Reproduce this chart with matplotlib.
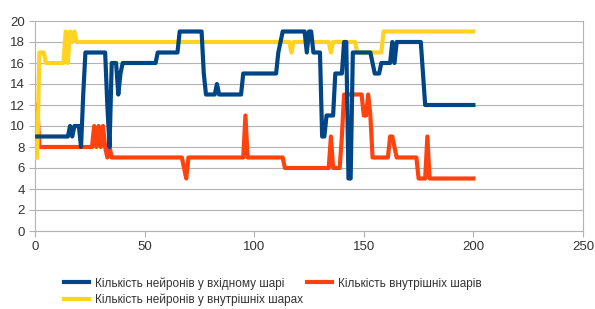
import numpy as np
import matplotlib
matplotlib.use("Agg")
from matplotlib import pyplot as plt

plt.rcParams['font.family'] = ['Liberation Sans', 'DejaVu Sans']

# step series, stored as (value, run length) pairs over x = 1..200
input_vals = [9, 10, 9, 10, 8, 13, 17, 12, 8, 16, 13, 15, 16, 17, 19, 15, 13, 14, 13,
              15, 17, 18, 19, 17, 19, 17, 9, 11, 15, 18, 5, 17, 16, 15, 16, 18, 16,
              18, 15, 12]
input_runs = [15, 1, 1, 3, 1, 1, 10, 1, 1, 3, 1, 1, 16, 10, 11, 1, 5, 1, 11,
              16, 1, 1, 11, 1, 2, 4, 2, 4, 4, 2, 2, 9, 1, 3, 5, 1, 1,
              12, 1, 23]

hidden_n_vals = [7, 17, 16, 19, 16, 19, 18, 19, 18, 17, 18, 17, 18, 17, 19]
hidden_n_runs = [1, 3, 9, 1, 1, 1, 1, 1, 98, 1, 17, 1, 11, 12, 42]

layers_vals = [12, 8, 10, 8, 10, 8, 10, 8, 7, 8, 7, 6, 5, 7, 11, 7, 6, 9, 6, 9,
               13, 11, 13, 11, 7, 9, 8, 7, 5, 9, 5]
layers_runs = [1, 25, 1, 1, 1, 1, 1, 1, 1, 1, 33, 1, 1, 26, 1, 17, 21, 1, 4, 1,
               9, 2, 1, 1, 8, 2, 1, 10, 4, 1, 21]

labels = ['Кількість нейронів у вхідному шарі',
          'Кількість нейронів у внутрішніх шарах',
          'Кількість внутрішніх шарів']
colors = ['#004586', '#ffd320', '#ff420e']

x = np.arange(1, 201)
input_n = np.repeat(input_vals, input_runs)
hidden_n = np.repeat(hidden_n_vals, hidden_n_runs)
layers = np.repeat(layers_vals, layers_runs)

fig = plt.figure(figsize=(5.95, 3.09), dpi=100)
ax = fig.add_axes([35 / 595, 1 - 231 / 309, 548 / 595, 210 / 309])

lines = []
for y, c, lab, z in zip([input_n, hidden_n, layers], colors, labels, [4, 3, 2]):
    ln, = ax.plot(x, y, color=c, lw=3, label=lab, zorder=z)
    lines.append(ln)

ax.set_xlim(0, 250)
ax.set_ylim(0, 20)
ax.set_xticks(range(0, 251, 50))
ax.set_yticks(range(0, 21, 2))
ax.yaxis.grid(True, color='#b3b3b3', lw=0.8)
ax.set_axisbelow(True)
for s in ax.spines.values():
    s.set_color('#b3b3b3')
    s.set_linewidth(0.8)
ax.spines['top'].set_visible(False)
ax.tick_params(colors='#b3b3b3', labelcolor='#333333', labelsize=9.5,
               length=4, width=0.8)

fig.legend(handles=lines, loc='upper left', bbox_to_anchor=(64 / 595, 1 - 277 / 309),
           ncol=2, frameon=False, fontsize=8.5, handlelength=2.1,
           handletextpad=0.5, columnspacing=0.4, labelspacing=0.35,
           borderaxespad=0, borderpad=0, labelcolor='#333333')

fig.savefig('out.png', dpi=100)
